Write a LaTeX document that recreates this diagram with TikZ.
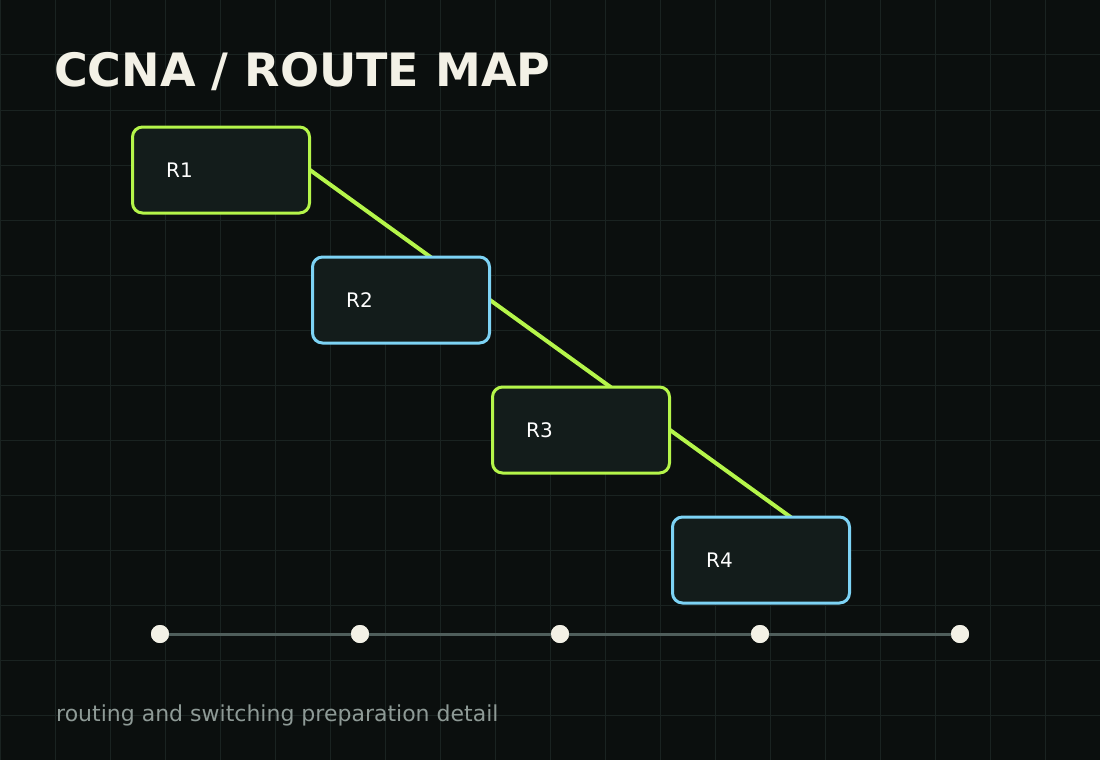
\documentclass[tikz,border=0pt]{standalone}
\usepackage{fontspec}
\setmainfont{DejaVu Sans}
\definecolor{bg}{HTML}{0B0F0E}
\definecolor{gridc}{HTML}{1A2321}
\definecolor{boxf}{HTML}{131C1B}
\definecolor{lime}{HTML}{B5F54A}
\definecolor{sky}{HTML}{7DD3F5}
\definecolor{titlec}{HTML}{F3F1E6}
\definecolor{footc}{HTML}{8E9A96}
\definecolor{axisc}{HTML}{4F5E5B}
\begin{document}
\begin{tikzpicture}[x=1pt,y=-1pt,
  box/.style={draw=#1,line width=3pt,fill=boxf,rounded corners=10pt,minimum width=177pt,minimum height=86pt,inner sep=0pt},
  lbl/.style={text=white,font=\fontsize{20}{20}\selectfont,anchor=west,inner sep=0pt},
  link/.style={draw=lime,line width=4pt},
  dot/.style={circle,fill=titlec,minimum size=18pt,inner sep=0pt}]
\fill[bg] (0,0) rectangle (1100,760);
\useasboundingbox (0,0) rectangle (1100,760);
\foreach \i in {0,55,...,1100} \draw[gridc,line width=1pt] (\i,0) -- (\i,760);
\foreach \i in {0,55,...,760} \draw[gridc,line width=1pt] (0,\i) -- (1100,\i);
\node[anchor=base west,inner sep=0pt,text=titlec,font=\fontsize{46}{46}\selectfont\bfseries] (title) at (54,86) {CCNA / ROUTE MAP};
\coordinate (e1) at (310,170); \coordinate (e2) at (490,300);
\coordinate (e3) at (670,430); \coordinate (e4) at (850,560);
\draw[link] (e1) -- (e2); \draw[link] (e2) -- (e3); \draw[link] (e3) -- (e4);
\node[box=lime] (r1) at (221,170) {}; \node[lbl] (l1) at (166,170) {R1};
\node[box=sky] (r2) at (401,300) {}; \node[lbl] (l2) at (346,300) {R2};
\node[box=lime] (r3) at (581,430) {}; \node[lbl] (l3) at (526,430) {R3};
\node[box=sky] (r4) at (761,560) {}; \node[lbl] (l4) at (706,560) {R4};
\node[dot] (d1) at (160,634) {}; \node[dot] (d2) at (360,634) {};
\node[dot] (d3) at (560,634) {}; \node[dot] (d4) at (760,634) {};
\node[dot] (d5) at (960,634) {};
\draw[axisc,line width=3pt] (d1.center) -- (d5.center);
\foreach \d in {d1,d2,d3,d4,d5} \fill[titlec] (\d) circle (9pt);
\node[anchor=base west,inner sep=0pt,text=footc,font=\fontsize{22}{22}\selectfont] (foot) at (56,721) {routing and switching preparation detail};
\end{tikzpicture}
\end{document}
